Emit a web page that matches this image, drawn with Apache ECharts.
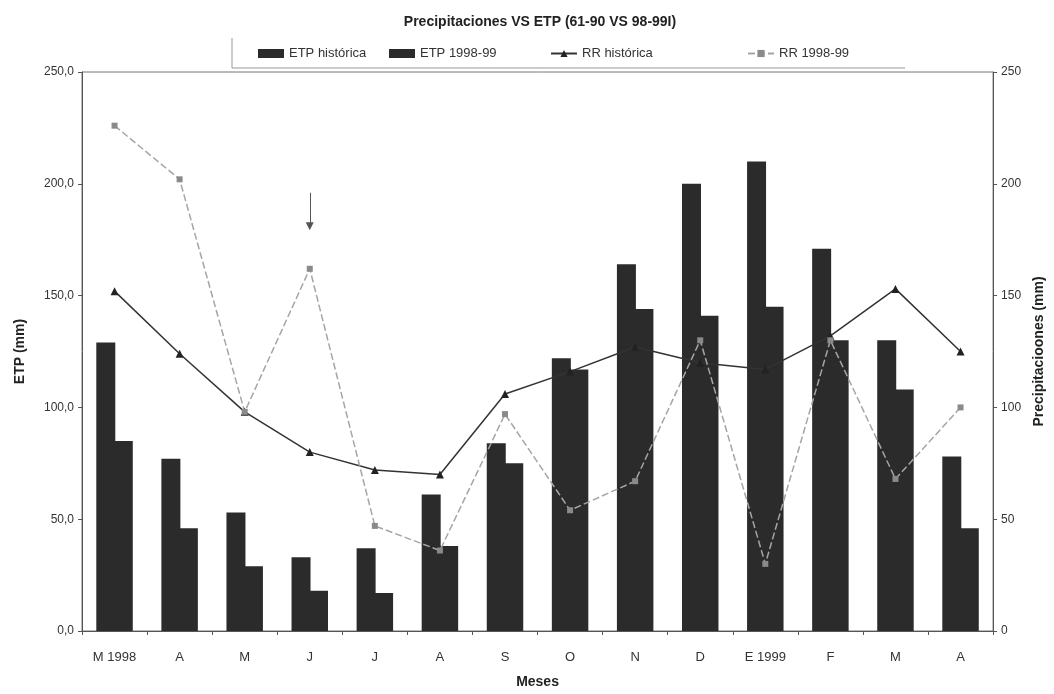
<!DOCTYPE html>
<html>
<head>
<meta charset="utf-8">
<script src="https://cdn.jsdelivr.net/npm/echarts@6/dist/echarts.min.js"></script>
<style>
html,body{margin:0;padding:0;background:#fff;}
#chart{width:1054px;height:694px;}
</style>
</head>
<body>
<div id="chart"></div>
<script>
var categories = ['M 1998','A','M','J','J','A','S','O','N','D','E 1999','F','M','A'];
var etpHistorica = [129, 77, 53, 33, 37, 61, 84, 122, 164, 200, 210, 171, 130, 78];
var etp9899 = [85, 46, 29, 18, 17, 38, 75, 117, 144, 141, 145, 130, 108, 46];
var rrHistorica = [152, 124, 98, 80, 72, 70, 106, 116, 127, 120, 117, 132, 153, 125];
var rr9899 = [226, 202, 98, 162, 47, 36, 97, 54, 67, 130, 30, 130, 68, 100];
var arrowAnnot = {catIndex: 3, from: 196, to: 181};

var FONT = '"Liberation Sans", Arial, sans-serif';
var chart = echarts.init(document.getElementById('chart'));

function legendAt(name, left, icon) {
  var l = {
    data: [{name: name, icon: icon}], left: left, top: 42, itemWidth: 26, itemHeight: 9, itemGap: 4,
    textStyle: {fontFamily: FONT, fontSize: 13, color: '#333'}
  };
  if (!icon) l.data = [name];
  return l;
}

chart.setOption({
  backgroundColor: '#fff',
  animation: false,
  title: {
    text: 'Precipitaciones VS ETP (61-90 VS 98-99I)',
    left: 535, top: 10, textAlign: 'center',
    textStyle: {fontFamily: FONT, fontSize: 14, fontWeight: 'bold', color: '#222'}
  },
  legend: [
    legendAt('ETP histórica', 253, 'rect'),
    legendAt('ETP 1998-99', 384, 'rect'),
    legendAt('RR histórica', 545),
    legendAt('RR 1998-99', 742)
  ],
  graphic: [
    {type: 'polyline', shape: {points: [[232, 38], [232, 68], [905, 68]]},
     style: {stroke: '#999', lineWidth: 1, fill: null}}
  ],
  grid: {left: 82, right: 57, top: 72, bottom: 63, show: true, borderColor: '#777', borderWidth: 1},
  xAxis: {
    type: 'category', data: categories, boundaryGap: true,
    name: 'Meses', nameLocation: 'middle', nameGap: 44,
    nameTextStyle: {fontFamily: FONT, fontSize: 14, fontWeight: 'bold', color: '#222'},
    axisLine: {lineStyle: {color: '#555'}},
    axisTick: {show: true, alignWithLabel: false, lineStyle: {color: '#555'}, length: 4},
    axisLabel: {fontFamily: FONT, fontSize: 13, color: '#333', margin: 20}
  },
  yAxis: [
    {
      type: 'value', min: 0, max: 250, interval: 50, position: 'left',
      name: 'ETP (mm)', nameLocation: 'middle', nameGap: 55, nameRotate: 90,
      nameTextStyle: {fontFamily: FONT, fontSize: 14, fontWeight: 'bold', color: '#222'},
      axisLine: {show: true, lineStyle: {color: '#555'}},
      axisTick: {show: true, inside: false, length: 4, lineStyle: {color: '#555'}},
      splitLine: {show: false},
      axisLabel: {fontFamily: FONT, fontSize: 12, color: '#333', margin: 8,
        formatter: function (v) { return v.toFixed(1).replace('.', ','); }}
    },
    {
      type: 'value', min: 0, max: 250, interval: 50, position: 'right',
      name: 'Precipitacioones (mm)', nameLocation: 'middle', nameGap: 38, nameRotate: 90,
      nameTextStyle: {fontFamily: FONT, fontSize: 14, fontWeight: 'bold', color: '#222'},
      axisLine: {show: true, lineStyle: {color: '#555'}},
      axisTick: {show: true, length: 4, lineStyle: {color: '#555'}},
      splitLine: {show: false},
      axisLabel: {fontFamily: FONT, fontSize: 12, color: '#333', margin: 8}
    }
  ],
  series: [
    {
      name: 'ETP histórica', type: 'bar', yAxisIndex: 0, data: etpHistorica,
      barWidth: 19, barGap: '-8%', itemStyle: {color: '#2b2b2b'}
    },
    {
      name: 'ETP 1998-99', type: 'bar', yAxisIndex: 0, data: etp9899,
      barWidth: 19, barGap: '-8%', itemStyle: {color: '#2b2b2b'}
    },
    {
      name: 'RR histórica', type: 'line', yAxisIndex: 1, data: rrHistorica,
      symbol: 'triangle', symbolSize: 8,
      lineStyle: {color: '#333', width: 1.5}, itemStyle: {color: '#222'}
    },
    {
      name: 'RR 1998-99', type: 'line', yAxisIndex: 1, data: rr9899,
      symbol: 'rect', symbolSize: 6,
      lineStyle: {color: '#a5a5a5', width: 1.5, type: [7, 3]}, itemStyle: {color: '#8a8a8a'},
      markLine: {
        silent: true, symbol: ['none', 'triangle'], symbolSize: [8, 8], symbolRotate: 180,
        label: {show: false},
        lineStyle: {color: '#555', width: 1, type: 'solid'},
        data: [[{coord: [arrowAnnot.catIndex, arrowAnnot.from]},
                {coord: [arrowAnnot.catIndex, arrowAnnot.to]}]]
      }
    }
  ]
});
</script>
</body>
</html>
